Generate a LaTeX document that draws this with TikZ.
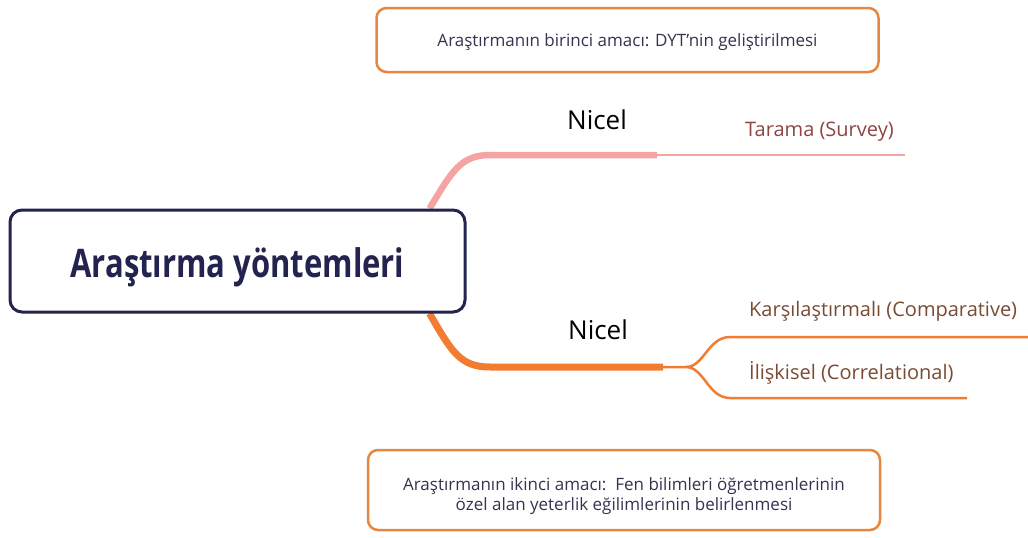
\documentclass[tikz,border=0pt]{standalone}
\usepackage{fontspec}
\setmainfont{Open Sans}
\usetikzlibrary{positioning,backgrounds}
\definecolor{navy}{HTML}{23234F}
\definecolor{goalorange}{HTML}{E8853F}
\definecolor{pinkline}{HTML}{F4A4A2}
\definecolor{orangeline}{HTML}{F27D32}
\definecolor{goaltext}{HTML}{35344F}
\definecolor{leafred}{HTML}{8E4444}
\definecolor{leafbrown}{HTML}{7A4B33}

\begin{document}
\begin{tikzpicture}[x=1pt,y=-1pt,
		goalbox/.style={draw=goalorange, line width=2.5pt, rounded corners=10pt, fill=white,
			text=goaltext, align=center, font=\fontsize{17}{20}\selectfont, inner sep=0pt},
		rootbox/.style={draw=navy, line width=3pt, rounded corners=12pt, fill=white,
			text=navy, font=\fontsize{31}{34}\selectfont\bfseries, inner sep=0pt,
			minimum width=455pt, minimum height=102pt, text height=36pt, text depth=4pt},
		branchlabel/.style={text=black, font=\fontsize{26}{30}\selectfont},
		leaf/.style={anchor=west, inner sep=0pt, font=\fontsize{20}{24}\selectfont}]
		\useasboundingbox (0,0) rectangle (1028,538);

		\node[goalbox, minimum width=502pt, minimum height=64pt, text height=15pt, text depth=2pt]
			(goal1) at (627.5,40) {Araştırmanın birinci amacı: DYT'nin geliştirilmesi};
		\node[rootbox] (root) at (237.5,261) {\scalebox{1}[1.27]{Araştırma yöntemleri}};
		\node[goalbox, minimum width=512pt, minimum height=80pt, text height=45pt, text depth=4pt]
			(goal2) at (624,490)
			{Araştırmanın ikinci amacı:\ \ Fen bilimleri öğretmenlerinin\\özel alan yeterlik eğilimlerinin belirlenmesi};

		\node[branchlabel] (nicel1) at (597,120) {Nicel};
		\node[branchlabel] (nicel2) at (598,330) {Nicel};
		\node[leaf, text=leafred] (tarama) at (745,132) {Tarama (Survey)};
		\node[leaf, text=leafbrown] (karsi) at (749,311) {Karşılaştırmalı (Comparative)};
		\node[leaf, text=leafbrown] (iliski) at (749,373) {İlişkisel (Correlational)};

		\path (490,155) coordinate (t0) (657,155) coordinate (t1) (905,155) coordinate (t2)
			(490,367) coordinate (n0) (663,367) coordinate (n1) (686,367) coordinate (fork)
			(1028,337) coordinate (k2) (967,398) coordinate (i2);

		\begin{scope}[on background layer]
		% upper branch
		\draw[pinkline, line width=6.5pt] ([xshift=-37pt]root.north east)
			.. controls +(22,-36) and +(-30,0) .. (t0) -- (t1);
		\draw[pinkline, line width=2pt] (t1) -- (t2);
		% lower branch
		\draw[orangeline, line width=7pt] ([xshift=-37pt]root.south east)
			.. controls +(22,38) and +(-30,0) .. (n0) -- (n1);
		\draw[orangeline, line width=2.5pt] (n1) -- (fork)
			.. controls +(18,0) and +(-22,0) .. (730,337) -- (k2);
		\draw[orangeline, line width=2.5pt] (fork)
			.. controls +(18,0) and +(-22,0) .. (730,398) -- (i2);
		\end{scope}
\end{tikzpicture}
\end{document}
